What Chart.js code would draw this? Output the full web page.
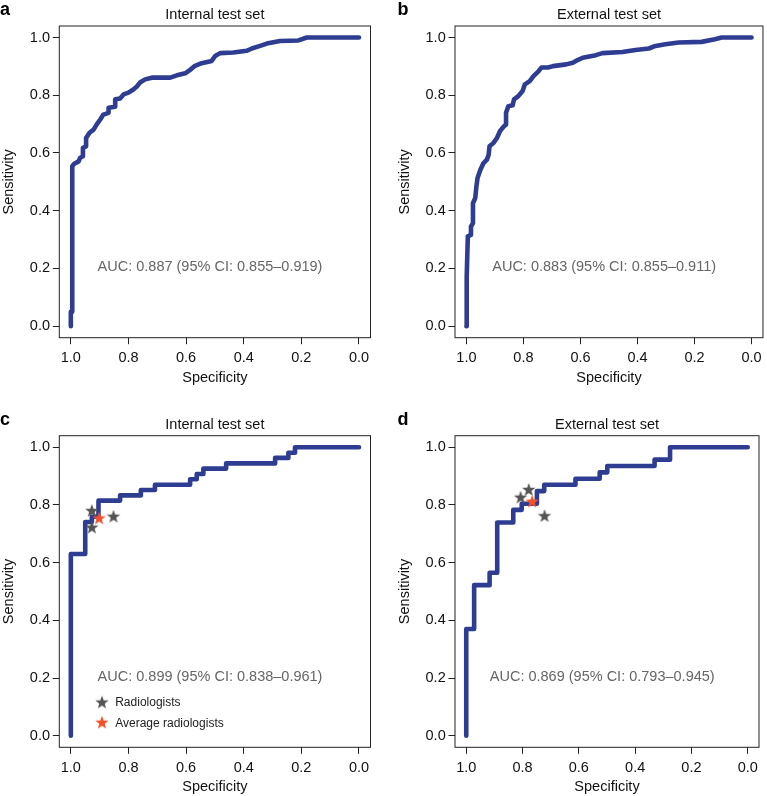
<!DOCTYPE html>
<html><head><meta charset="utf-8">
<script src="https://cdn.jsdelivr.net/npm/chart.js@4/dist/chart.umd.min.js"></script>
<style>
html,body{margin:0;padding:0;background:#fff;width:767px;height:796px;overflow:hidden;position:relative;}
canvas{position:absolute;}
</style></head><body>
<canvas id="pa" width="384" height="400" style="left:0px;top:0px;width:384px;height:400px"></canvas>
<canvas id="pb" width="383" height="400" style="left:384px;top:0px;width:383px;height:400px"></canvas>
<canvas id="pc" width="384" height="396" style="left:0px;top:400px;width:384px;height:396px"></canvas>
<canvas id="pd" width="383" height="396" style="left:384px;top:400px;width:383px;height:396px"></canvas>
<script>
// ---------- data ----------
const axisTicks = [1.0, 0.8, 0.6, 0.4, 0.2, 0.0];

const panelTitles = ['Internal test set', 'External test set', 'Internal test set', 'External test set'];
const panelLetters = ['a', 'b', 'c', 'd'];
const aucTexts = [
  'AUC: 0.887 (95% CI: 0.855\u20130.919)',
  'AUC: 0.883 (95% CI: 0.855\u20130.911)',
  'AUC: 0.899 (95% CI: 0.838\u20130.961)',
  'AUC: 0.869 (95% CI: 0.793\u20130.945)'
];
const legendLabels = ['Radiologists', 'Average radiologists'];

// panel a: model ROC, internal test set
const aSpec = [1.0, 1.0, 0.995, 0.995, 0.988, 0.973, 0.968, 0.958, 0.958, 0.947, 0.947, 0.935, 0.921, 0.910, 0.898, 0.887, 0.869, 0.869, 0.846, 0.846, 0.829, 0.817, 0.800, 0.783, 0.771, 0.760, 0.742, 0.719, 0.655, 0.632, 0.603, 0.586, 0.569, 0.546, 0.511, 0.499, 0.482, 0.436, 0.390, 0.372, 0.343, 0.320, 0.274, 0.210, 0.181, 0.0];
const aSens = [0.0, 0.05, 0.05, 0.554, 0.563, 0.571, 0.583, 0.589, 0.618, 0.623, 0.652, 0.670, 0.681, 0.699, 0.716, 0.733, 0.739, 0.757, 0.760, 0.786, 0.789, 0.803, 0.809, 0.820, 0.830, 0.844, 0.855, 0.861, 0.861, 0.869, 0.876, 0.888, 0.902, 0.911, 0.919, 0.936, 0.946, 0.948, 0.954, 0.962, 0.971, 0.979, 0.988, 0.990, 1.0, 1.0];

// panel b: model ROC, external test set
const bSpec = [1.0, 1.0, 0.998, 0.995, 0.984, 0.984, 0.977, 0.977, 0.969, 0.965, 0.961, 0.951, 0.940, 0.928, 0.922, 0.919, 0.905, 0.893, 0.882, 0.868, 0.861, 0.861, 0.853, 0.838, 0.833, 0.818, 0.803, 0.795, 0.778, 0.764, 0.749, 0.737, 0.714, 0.696, 0.650, 0.627, 0.610, 0.592, 0.546, 0.523, 0.453, 0.407, 0.360, 0.337, 0.302, 0.256, 0.175, 0.129, 0.105, 0.0];
const bSens = [0.0, 0.148, 0.171, 0.311, 0.316, 0.345, 0.357, 0.426, 0.444, 0.484, 0.513, 0.542, 0.565, 0.577, 0.594, 0.623, 0.635, 0.652, 0.676, 0.693, 0.699, 0.739, 0.762, 0.765, 0.786, 0.797, 0.815, 0.838, 0.849, 0.867, 0.881, 0.896, 0.896, 0.901, 0.907, 0.913, 0.922, 0.930, 0.939, 0.946, 0.950, 0.957, 0.962, 0.971, 0.977, 0.983, 0.985, 0.994, 1.0, 1.0];

// panel c: ROC (step) internal subset + radiologists
const cSpec = [1.0, 1.0, 0.950, 0.927, 0.904, 0.829, 0.757, 0.708, 0.586, 0.563, 0.540, 0.461, 0.291, 0.245, 0.222, 0.0];
const cSens = [0.0, 0.630, 0.741, 0.759, 0.815, 0.833, 0.852, 0.870, 0.889, 0.907, 0.926, 0.944, 0.963, 0.981, 1.0, 1.0];
const cRadSpec = [0.927, 0.927, 0.852];
const cRadSens = [0.779, 0.721, 0.759];
const cAvgSpec = [0.902];
const cAvgSens = [0.753];

// panel d: ROC (step) external subset + radiologists
const dSpec = [1.0, 1.0, 0.972, 0.917, 0.890, 0.833, 0.803, 0.749, 0.723, 0.612, 0.526, 0.499, 0.331, 0.276, 0.0];
const dSens = [0.0, 0.370, 0.522, 0.565, 0.739, 0.783, 0.804, 0.848, 0.870, 0.891, 0.913, 0.935, 0.957, 1.0, 1.0];
const dRadSpec = [0.807, 0.778, 0.722];
const dRadSens = [0.825, 0.852, 0.761];
const dAvgSpec = [0.766];
const dAvgSens = [0.811];

// ---------- styles ----------
const FONT = '"Liberation Sans", Arial, Helvetica, sans-serif';
const CURVE = '#2E3D92';
const GREY_STAR = '#555555';
const ORANGE_STAR = '#F2522A';

function makeStar(color, outer, inner) {
  const s = Math.ceil(outer * 2 + 2);
  const c = document.createElement('canvas');
  c.width = s; c.height = s;
  const g = c.getContext('2d');
  g.fillStyle = color;
  g.beginPath();
  for (let i = 0; i < 10; i++) {
    const r = i % 2 === 0 ? outer : inner;
    const ang = -Math.PI / 2 + i * Math.PI / 5;
    const px = s / 2 + r * Math.cos(ang), py = s / 2 + r * Math.sin(ang);
    if (i === 0) g.moveTo(px, py); else g.lineTo(px, py);
  }
  g.closePath();
  g.fill();
  return c;
}
const greyStar = makeStar(GREY_STAR, 7, 2.9);
const orangeStar = makeStar(ORANGE_STAR, 7, 2.9);

const zip = (xs, ys) => xs.map((v, i) => ({x: v, y: ys[i]}));

const decor = {
  id: 'decor',
  beforeDatasetsDraw(chart) {
    const {ctx, chartArea: a} = chart;
    ctx.save();
    ctx.strokeStyle = '#222';
    ctx.lineWidth = 1;
    ctx.strokeRect(a.left, a.top, a.right - a.left, a.bottom - a.top);
    ctx.restore();
  },
  afterDraw(chart, args, o) {
    const {ctx} = chart;
    const x = chart.scales.x, y = chart.scales.y;
    ctx.save();
    ctx.fillStyle = '#000';
    ctx.font = 'bold 18px ' + FONT;
    ctx.textAlign = 'left';
    ctx.textBaseline = 'alphabetic';
    ctx.fillText(o.letter, o.letterX, o.letterY);

    ctx.fillStyle = '#666';
    ctx.font = '14.5px ' + FONT;
    ctx.textAlign = 'center';
    ctx.textBaseline = 'middle';
    ctx.fillText(o.auc, x.getPixelForValue(0.517), y.getPixelForValue(0.205));

    if (o.legend) {
      const sx = x.getPixelForValue(0.892);
      const tx = x.getPixelForValue(0.846);
      const rows = [[greyStar, 0.115], [orangeStar, 0.045]];
      ctx.font = '12px ' + FONT;
      ctx.fillStyle = '#222';
      ctx.textAlign = 'left';
      rows.forEach((r, i) => {
        const py = y.getPixelForValue(r[1]);
        ctx.drawImage(r[0], sx - r[0].width / 2, py - r[0].height / 2);
        ctx.fillText(legendLabels[i], tx, py + 0.5);
      });
    }
    ctx.restore();
  }
};

function axis(extra) {
  return Object.assign({
    type: 'linear',
    min: -0.04,
    max: 1.04,
    afterBuildTicks: (s) => { s.ticks = axisTicks.map(v => ({value: v})); },
    grid: {drawOnChartArea: false, drawTicks: true, tickLength: 6.5, color: '#222', lineWidth: 1},
    border: {display: false},
  }, extra);
}

function makeChart(id, p) {
  const datasets = [];
  if (p.avg) datasets.push({type: 'scatter', data: p.avg, pointStyle: orangeStar, pointRadius: 7, showLine: false, order: 1});
  if (p.rad) datasets.push({type: 'scatter', data: p.rad, pointStyle: greyStar, pointRadius: 7, showLine: false, order: 2});
  datasets.push({
    type: 'line', data: p.curve, borderColor: CURVE, borderWidth: 4.6, pointRadius: 0,
    fill: false, tension: 0, stepped: p.stepped ? 'before' : false,
    borderCapStyle: 'round', borderJoinStyle: 'round', order: 3
  });
  return new Chart(document.getElementById(id), {
    data: {datasets},
    options: {
      responsive: false,
      animation: false,
      events: [],
      layout: {padding: {left: 0, right: p.padRight, top: 0, bottom: 0}},
      plugins: {
        legend: {display: false},
        tooltip: {enabled: false},
        title: {
          display: true, text: p.title, fullSize: false, color: '#111',
          font: {family: FONT, size: 14.5, weight: 'normal'},
          padding: {top: p.titleTop, bottom: p.titleBottom}
        },
        decor: {letter: p.letter, letterX: p.letterX, letterY: p.letterY, auc: p.auc, legend: !!p.legend}
      },
      scales: {
        x: axis({
          position: 'bottom',
          reverse: true,
          ticks: {color: '#111', font: {family: FONT, size: 14.5}, padding: 5.2, maxRotation: 0, callback: v => v.toFixed(1)},
          title: {display: true, text: 'Specificity', color: '#111', font: {family: FONT, size: 14.5}, padding: {top: 0, bottom: p.xTitleBottom}},
          afterFit: (s) => { s.height = p.xAxisH; }
        }),
        y: axis({
          position: 'left',
          ticks: {color: '#111', font: {family: FONT, size: 14.5}, padding: 2.8, callback: v => v.toFixed(1)},
          title: {display: true, text: 'Sensitivity', color: '#111', font: {family: FONT, size: 14.5}, padding: {top: p.yTitleTop, bottom: 0}},
          afterFit: (s) => { s.width = p.yAxisW; }
        })
      }
    },
    plugins: [decor]
  });
}

makeChart('pa', {curve: zip(aSpec, aSens), stepped: false, title: panelTitles[0], letter: panelLetters[0], letterX: 0, letterY: 15, auc: aucTexts[0],
  padRight: 13.5, yAxisW: 59.3, xAxisH: 62.3, titleTop: 6.3, titleBottom: 2.3, xTitleBottom: 13.6, yTitleTop: 0.3});
makeChart('pb', {curve: zip(bSpec, bSens), stepped: false, title: panelTitles[1], letter: panelLetters[1], letterX: 13.5, letterY: 15, auc: aucTexts[1],
  padRight: 1.3, yAxisW: 71, xAxisH: 62.3, titleTop: 6.3, titleBottom: 2.3, xTitleBottom: 13.6, yTitleTop: 11.8});
makeChart('pc', {curve: zip(cSpec, cSens), stepped: true, rad: zip(cRadSpec, cRadSens), avg: zip(cAvgSpec, cAvgSens), legend: true,
  title: panelTitles[2], letter: panelLetters[2], letterX: 0, letterY: 25, auc: aucTexts[2],
  padRight: 13.5, yAxisW: 59.3, xAxisH: 48.7, titleTop: 16.3, titleBottom: 2.0, xTitleBottom: 0, yTitleTop: 0.3});
makeChart('pd', {curve: zip(dSpec, dSens), stepped: true, rad: zip(dRadSpec, dRadSens), avg: zip(dAvgSpec, dAvgSens),
  title: panelTitles[3], letter: panelLetters[3], letterX: 13.5, letterY: 25, auc: aucTexts[3],
  padRight: 1.3, yAxisW: 71, xAxisH: 48.7, titleTop: 16.3, titleBottom: 2.0, xTitleBottom: 0, yTitleTop: 11.8});
</script>
</body></html>
